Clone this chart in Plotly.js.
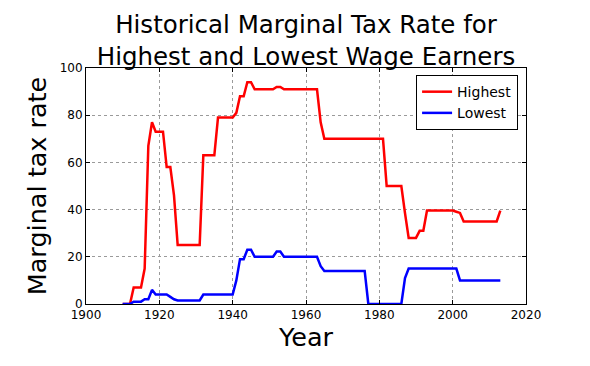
<!DOCTYPE html>
<html>
<head>
<meta charset="utf-8">
<script src="https://cdn.plot.ly/plotly-3.0.1.min.js"></script>
<style>html,body{margin:0;padding:0;background:#fff;}#chart{width:590px;height:366px;}</style>
</head>
<body>
<div id="chart"></div>
<script>
// Years 1910..2013
const years = [];
for (let y = 1910; y <= 2013; y++) years.push(y);

const highest = [
  0, 0, 0, 7, 7, 7, 15, 67, 77, 73,            // 1910-1919
  73, 73, 58, 58, 46, 25, 25, 25, 25, 25,      // 1920-1929
  25, 25, 63, 63, 63, 63, 79, 79, 79, 79,      // 1930-1939
  79, 81, 88, 88, 94, 94, 91, 91, 91, 91,      // 1940-1949
  91, 91, 92, 92, 91, 91, 91, 91, 91, 91,      // 1950-1959
  91, 91, 91, 91, 77, 70, 70, 70, 70, 70,      // 1960-1969
  70, 70, 70, 70, 70, 70, 70, 70, 70, 70,      // 1970-1979
  70, 70, 50, 50, 50, 50, 50, 38.5, 28, 28,    // 1980-1989
  28, 31, 31, 39.6, 39.6, 39.6, 39.6, 39.6, 39.6, 39.6, // 1990-1999
  39.6, 39.1, 38.6, 35, 35, 35, 35, 35, 35, 35, // 2000-2009
  35, 35, 35, 39.6                              // 2010-2013
];

const lowest = [
  0, 0, 0, 1, 1, 1, 2, 2, 6, 4,                // 1910-1919
  4, 4, 4, 3, 2, 1.5, 1.5, 1.5, 1.5, 1.5,      // 1920-1929
  1.5, 1.5, 4, 4, 4, 4, 4, 4, 4, 4,            // 1930-1939
  4, 10, 19, 19, 23, 23, 20, 20, 20, 20,       // 1940-1949
  20, 20, 22.2, 22.2, 20, 20, 20, 20, 20, 20,  // 1950-1959
  20, 20, 20, 20, 16, 14, 14, 14, 14, 14,      // 1960-1969
  14, 14, 14, 14, 14, 14, 14, 0, 0, 0,         // 1970-1979
  0, 0, 0, 0, 0, 0, 0, 11, 15, 15,             // 1980-1989
  15, 15, 15, 15, 15, 15, 15, 15, 15, 15,      // 1990-1999
  15, 15, 10, 10, 10, 10, 10, 10, 10, 10,      // 2000-2009
  10, 10, 10, 10                                // 2010-2013
];

const seriesNames = ["Highest", "Lowest"];
const xTicks = [1900, 1920, 1940, 1960, 1980, 2000, 2020];
const yTicks = [0, 20, 40, 60, 80, 100];

const font = "DejaVu Sans, Liberation Sans, sans-serif";

const traces = [
  {x: years, y: highest, name: seriesNames[0], type: "scatter", mode: "lines",
   line: {color: "#ff0000", width: 2.5}, cliponaxis: true},
  {x: years, y: lowest, name: seriesNames[1], type: "scatter", mode: "lines",
   line: {color: "#0000ff", width: 2.5}, cliponaxis: true}
];

const axisCommon = {
  showline: true, linecolor: "#000", linewidth: 1, mirror: "allticks",
  ticks: "inside", ticklen: 4, tickcolor: "#000", tickwidth: 1,
  showgrid: true, gridcolor: "#9a9a9a", gridwidth: 1, griddash: "dot",
  zeroline: false, tickfont: {family: font, size: 12, color: "#000"}
};

const layout = {
  width: 590, height: 366,
  margin: {l: 86, r: 64, t: 68, b: 62},
  paper_bgcolor: "#fff", plot_bgcolor: "#fff",
  font: {family: font, color: "#000"},
  title: {
    text: "Historical Marginal Tax Rate for<br>Highest and Lowest Wage Earners",
    font: {family: font, size: 24.5, color: "#000"},
    x: 0.5, xref: "paper", xanchor: "center",
    y: 0.91, yref: "container", yanchor: "top"
  },
  xaxis: Object.assign({}, axisCommon, {
    range: [1900, 2020], tickvals: xTicks, ticktext: xTicks.map(String),
    title: {text: "Year", font: {family: font, size: 25.5, color: "#000"}, standoff: 6}
  }),
  yaxis: Object.assign({}, axisCommon, {
    range: [0, 100], tickvals: yTicks, ticktext: yTicks.map(String),
    title: {text: "Marginal tax rate", font: {family: font, size: 25.5, color: "#000"}, standoff: 5}
  }),
  showlegend: true,
  legend: {
    x: 0.982, xanchor: "right", y: 0.97, yanchor: "top",
    bgcolor: "#fff", bordercolor: "#000", borderwidth: 1,
    font: {family: font, size: 14, color: "#000"},
    itemwidth: 30
  }
};

Plotly.newPlot("chart", traces, layout, {staticPlot: true, displayModeBar: false});
</script>
</body>
</html>
